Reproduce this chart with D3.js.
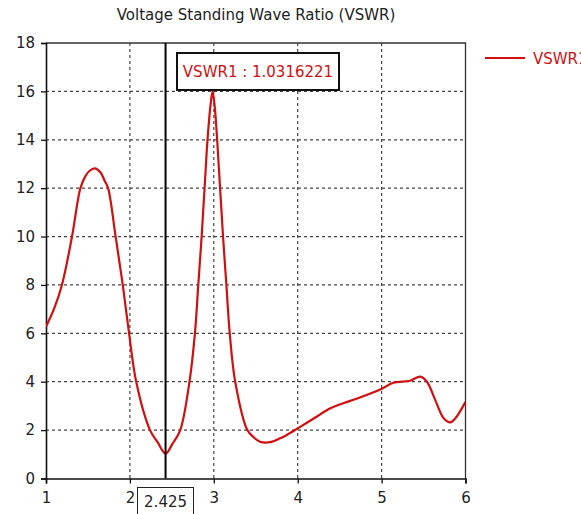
<!DOCTYPE html>
<html><head><meta charset="utf-8">
<script src="https://cdn.jsdelivr.net/npm/d3@7"></script>
<style>body{margin:0;background:#fff}svg{display:block}</style>
</head><body>
<script>
const title = "Voltage Standing Wave Ratio (VSWR)";
const seriesName = "VSWR1";
const freq = [1.0,1.1,1.19,1.31,1.41,1.47,1.52,1.58,1.65,1.70,1.74,1.83,1.915,1.99,2.075,2.24,2.33,2.425,2.51,2.60,2.71,2.775,2.815,2.855,2.89,2.925,2.96,2.985,3.01,3.04,3.075,3.11,3.15,3.19,3.255,3.40,3.47,3.55,3.67,3.79,3.87,4.0,4.2,4.39,4.55,4.71,4.99,5.14,5.34,5.46,5.54,5.64,5.74,5.82,5.88,6.0];
const vswr = [6.27,7.05,8.0,10.0,12.0,12.5,12.72,12.82,12.65,12.3,12.0,10.0,8.0,6.0,4.0,2.0,1.5,1.03,1.45,2.0,4.0,6.0,8.0,10.0,12.0,14.0,15.4,16.0,15.4,14.0,12.0,10.0,8.0,6.0,4.0,2.0,1.72,1.52,1.5,1.66,1.8,2.07,2.5,2.9,3.12,3.31,3.69,3.96,4.04,4.21,4.0,3.24,2.49,2.32,2.49,3.17];
const xTicks = [1,2,3,4,5,6];
const yTicks = [0,2,4,6,8,10,12,14,16,18];
const markerX = 2.425;
const markerLabel = "VSWR1 : 1.0316221";

const W = 581, H = 514;
const m = {l:46, r:465.5, t:43, b:478.5};
const svg = d3.select("body").append("svg").attr("width",W).attr("height",H);
const x = d3.scaleLinear().domain([1,6]).range([m.l,m.r]);
const y = d3.scaleLinear().domain([0,18]).range([m.b,m.t]);
const font = "Tahoma, 'DejaVu Sans', sans-serif";

svg.append("text").attr("x",256).attr("y",20).attr("text-anchor","middle")
  .attr("font-family",font).attr("font-size",15).attr("fill","#222").text(title);

// grid
const g = svg.append("g");
g.selectAll(".gx").data(xTicks.filter(d=>d>1&&d<6)).join("line")
  .attr("x1",d=>x(d)).attr("x2",d=>x(d)).attr("y1",m.t).attr("y2",m.b)
  .attr("stroke","#444").attr("stroke-width",1.2).attr("stroke-dasharray","3,3");
g.selectAll(".gy").data(yTicks.filter(d=>d>0&&d<18)).join("line")
  .attr("x1",m.l).attr("x2",m.r).attr("y1",d=>y(d)).attr("y2",d=>y(d))
  .attr("stroke","#444").attr("stroke-width",1.2).attr("stroke-dasharray","3,3");

// border top/right
svg.append("path").attr("d",`M${m.l},${m.t}H${m.r}V${m.b}`).attr("fill","none").attr("stroke","#333").attr("stroke-width",1.3);

// axes
const ax = svg.append("g").attr("transform",`translate(0,${m.b})`)
  .call(d3.axisBottom(x).tickValues(xTicks).tickFormat(d3.format("d")).tickSizeOuter(0).tickSize(5).tickPadding(9));
const ay = svg.append("g").attr("transform",`translate(${m.l},0)`)
  .call(d3.axisLeft(y).tickValues(yTicks).tickSizeOuter(0).tickSize(5).tickPadding(6));
[ax,ay].forEach(a=>{
  a.select(".domain").attr("stroke","#111").attr("stroke-width",1.6);
  a.selectAll(".tick line").attr("stroke","#111").attr("stroke-width",1.3);
  a.selectAll("text").attr("font-family",font).attr("font-size",15).attr("fill","#222");
});

// clip
svg.append("clipPath").attr("id","c").append("rect").attr("x",m.l).attr("y",m.t).attr("width",m.r-m.l).attr("height",m.b-m.t);
const data = freq.map((f,i)=>[f,vswr[i]]);
svg.append("path").datum(data).attr("clip-path","url(#c)")
  .attr("d",d3.line().x(d=>x(d[0])).y(d=>y(d[1])).curve(d3.curveCatmullRom.alpha(0.5)))
  .attr("fill","none").attr("stroke","#d01010").attr("stroke-width",2.2);

// marker
svg.append("line").attr("x1",x(markerX)).attr("x2",x(markerX)).attr("y1",m.t).attr("y2",m.b)
  .attr("stroke","#000").attr("stroke-width",2);
svg.append("rect").attr("x",137.5).attr("y",487.5).attr("width",56).attr("height",30)
  .attr("fill","#fff").attr("stroke","#222").attr("stroke-width",1);
svg.append("text").attr("x",x(markerX)).attr("y",507).attr("text-anchor","middle")
  .attr("font-family",font).attr("font-size",15).attr("fill","#222").text(d3.format(".3f")(markerX));

svg.append("rect").attr("x",177).attr("y",53).attr("width",162).attr("height",37)
  .attr("fill","#fff").attr("stroke","#111").attr("stroke-width",2);
svg.append("text").attr("x",258).attr("y",77).attr("text-anchor","middle")
  .attr("font-family",font).attr("font-size",15).attr("fill","#d01010").text(markerLabel);

// legend
svg.append("line").attr("x1",485).attr("x2",525).attr("y1",58).attr("y2",58).attr("stroke","#d01010").attr("stroke-width",2.2);
svg.append("text").attr("x",533).attr("y",64).attr("font-family",font).attr("font-size",15).attr("fill","#d01010").text(seriesName);
</script>
</body></html>
